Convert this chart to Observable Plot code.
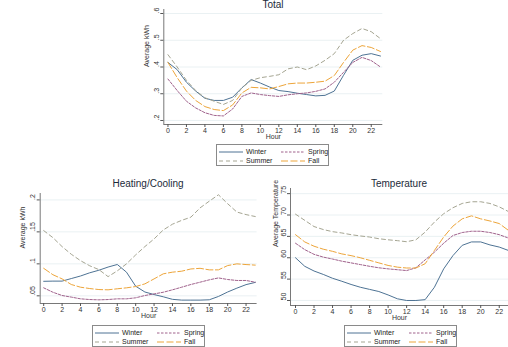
<!DOCTYPE html>
<html><head><meta charset="utf-8">
<script src="https://cdn.jsdelivr.net/npm/d3@7"></script>
<script src="https://cdn.jsdelivr.net/npm/@observablehq/plot@0.6"></script>
<style>
html,body{margin:0;padding:0;background:#fff;}
#root{position:relative;width:508px;height:347px;overflow:hidden;font-family:"Liberation Sans",Arial,sans-serif;}
.panel{position:absolute;}
.title{position:absolute;font-size:10px;color:#1c2b3a;transform:translateX(-50%);white-space:nowrap;line-height:10px;}
.legend{position:absolute;border:1px solid #8a8a8a;background:#fff;box-sizing:border-box;}
.item{position:absolute;font-size:7px;color:#222;line-height:8px;white-space:nowrap;}
.item svg{position:absolute;left:0;top:1px;}
.item span{position:absolute;left:27px;top:0;}
</style>
</head><body>
<div id="root"></div>
<script>
const hours = [0,1,2,3,4,5,6,7,8,9,10,11,12,13,14,15,16,17,18,19,20,21,22,23];
const seasons = ["Winter","Spring","Summer","Fall"];
const xTicks = [0,2,4,6,8,10,12,14,16,18,20,22];

// Total (Average kWh)
const totalWinter = [0.417,0.39,0.343,0.31,0.283,0.275,0.275,0.287,0.322,0.353,0.34,0.325,0.312,0.308,0.302,0.297,0.292,0.294,0.31,0.369,0.425,0.444,0.45,0.441];
const totalSpring = [0.355,0.312,0.272,0.247,0.229,0.219,0.217,0.243,0.29,0.303,0.297,0.293,0.29,0.296,0.3,0.303,0.309,0.318,0.343,0.38,0.417,0.436,0.424,0.4];
const totalSummer = [0.446,0.4,0.35,0.312,0.285,0.272,0.26,0.275,0.322,0.35,0.36,0.365,0.371,0.393,0.4,0.39,0.404,0.425,0.45,0.5,0.525,0.544,0.532,0.506];
const totalFall   = [0.417,0.36,0.31,0.275,0.252,0.241,0.237,0.258,0.303,0.324,0.322,0.318,0.327,0.337,0.34,0.34,0.343,0.347,0.368,0.417,0.463,0.48,0.473,0.458];
const totalTicks = [0.2,0.3,0.4,0.5,0.6];
const totalTickLabels = [".2",".3",".4",".5",".6"];

// Heating/Cooling (Average kWh)
const hcWinter = [0.0727,0.073,0.073,0.077,0.081,0.086,0.09,0.095,0.099,0.087,0.065,0.056,0.052,0.0485,0.0445,0.0433,0.0433,0.0433,0.0438,0.049,0.056,0.062,0.0675,0.071];
const hcSpring = [0.0625,0.0556,0.0505,0.048,0.0453,0.0442,0.0437,0.0442,0.0453,0.0453,0.0469,0.0505,0.053,0.0556,0.0594,0.0635,0.0677,0.0713,0.075,0.078,0.0755,0.074,0.074,0.0713];
const hcSummer = [0.152,0.141,0.127,0.115,0.105,0.097,0.091,0.08,0.089,0.1,0.114,0.127,0.139,0.153,0.162,0.168,0.173,0.1875,0.198,0.208,0.194,0.181,0.177,0.174];
const hcFall   = [0.093,0.083,0.0765,0.0677,0.0635,0.0614,0.0598,0.0594,0.061,0.0625,0.0645,0.0687,0.0765,0.0844,0.087,0.0885,0.092,0.093,0.0906,0.0906,0.0973,0.1,0.0989,0.098];
const hcTicks = [0.05,0.1,0.15,0.2];
const hcTickLabels = [".05",".1",".15",".2"];

// Temperature (Average Temperature)
const tWinter = [60,58,56.9,56.1,55.2,54.5,53.75,53.1,52.6,52.1,51.3,50.4,50,50,50.2,53.1,57.4,60.5,62.9,63.7,63.7,63,62.5,61.7];
const tSpring = [63.4,61.9,60.8,60.15,59.7,59.2,58.8,58.4,58,57.65,57.4,57.2,57,57.65,59.5,61.3,63.4,65.2,65.9,66.2,66.2,65.9,65.4,64.6];
const tSummer = [70.2,68.75,67.3,66.6,66.1,65.8,65.4,65.1,64.85,64.45,64.2,64,63.75,64.2,66,68.35,70.3,71.7,72.7,73.1,73.1,72.7,71.9,70.8];
const tFall   = [65.4,63.7,62.7,62,61.5,60.9,60.5,60,59.4,58.8,58.2,57.8,57.6,57.6,58.6,61.7,64.85,67.4,69.1,69.8,69.1,68.6,68,66.4];
const tTicks = [50,55,60,65,70,75];
const tTickLabels = ["50","55","60","65","70","75"];

const styles = {
  Winter: {stroke:"#4e7394", dash:null},
  Spring: {stroke:"#a0628c", dash:"2.5,1.5"},
  Summer: {stroke:"#a5a592", dash:"4,3"},
  Fall:   {stroke:"#eda53a", dash:"7,2.5"}
};

function tidy(w, sp, su, f){
  const rows = [];
  const m = {Winter:w, Spring:sp, Summer:su, Fall:f};
  for (const s of seasons) hours.forEach((h,i)=>rows.push({season:s, hour:h, value:m[s][i]}));
  return rows;
}

const root = document.getElementById("root");

function panel(cfg){
  const rows = tidy(...cfg.series);
  const marks = [
    Plot.ruleY(cfg.yTicks, {stroke:"#e4edf0", strokeWidth:0.8}),
    Plot.ruleX([cfg.xDomain[0]], {stroke:"#555", strokeWidth:0.8}),
    Plot.ruleY([cfg.yDomain[0]], {stroke:"#555", strokeWidth:0.8}),
    Plot.axisY({ticks: cfg.yTicks, tickFormat: () => "", tickSize: 3, label: null, stroke:"#555"}),
    Plot.text(cfg.yTicks, {y: d=>d, frameAnchor:"left", text:(d,i)=>cfg.yTickLabels[i], rotate:-90, dx:-7, fill:"#333", fontSize:7}),
    Plot.axisX({ticks: xTicks, tickSize: 3, tickPadding: 0.5, label: null, fontSize: 7, color:"#333", stroke:"#555"}),
    Plot.text(["Hour"], {frameAnchor:"bottom", dy: cfg.hourDy, fill:"#333", fontSize:7}),
    Plot.text([cfg.yLabel], {frameAnchor:"left", rotate:-90, dx: cfg.yLabelDx, fill:"#333", fontSize:7})
  ];
  for (const s of seasons){
    marks.push(Plot.line(rows.filter(r=>r.season===s), {x:"hour", y:"value", stroke: styles[s].stroke, strokeWidth:1, strokeDasharray: styles[s].dash, curve:"linear"}));
  }
  const svg = Plot.plot({
    width: cfg.width, height: cfg.height,
    marginLeft: cfg.ml, marginRight: cfg.mr, marginTop: cfg.mt, marginBottom: cfg.mb,
    x: {domain: cfg.xDomain, axis: null},
    y: {domain: cfg.yDomain, axis: null},
    style: {fontFamily:'"Liberation Sans",Arial,sans-serif', background:"transparent", overflow:"visible"},
    marks
  });
  const wrap = document.createElement("div");
  wrap.className = "panel";
  wrap.style.left = cfg.left + "px"; wrap.style.top = cfg.top + "px";
  wrap.appendChild(svg);
  root.appendChild(wrap);

  const t = document.createElement("div");
  t.className = "title"; t.textContent = cfg.title;
  t.style.left = cfg.titleX + "px"; t.style.top = cfg.titleY + "px";
  root.appendChild(t);

  const lg = document.createElement("div");
  lg.className = "legend";
  lg.style.left = cfg.legend[0]+"px"; lg.style.top = cfg.legend[1]+"px";
  lg.style.width = "113px"; lg.style.height = "22px";
  const pos = {Winter:[2,3], Spring:[64,3], Summer:[2,12], Fall:[64,12]};
  for (const s of ["Winter","Spring","Summer","Fall"]){
    const it = document.createElement("div");
    it.className = "item";
    it.style.left = pos[s][0]+"px"; it.style.top = pos[s][1]+"px";
    it.innerHTML = `<svg width="24" height="6"><line x1="0" y1="3" x2="24" y2="3" stroke="${styles[s].stroke}" stroke-width="1" ${styles[s].dash?`stroke-dasharray="${styles[s].dash}"`:""}/></svg><span>${s}</span>`;
    lg.appendChild(it);
  }
  root.appendChild(lg);
}

panel({
  title:"Total", titleX:273, titleY:0,
  left:130, top:0, width:255, height:145, ml:33.3, mr:2.7, mt:9, mb:21,
  xDomain:[-0.45,23.25], yDomain:[0.185,0.615],
  yTicks: totalTicks, yTickLabels: totalTickLabels,
  series:[totalWinter,totalSpring,totalSummer,totalFall],
  yLabel:"Average kWh", yLabelDx:-17, hourDy:14.5,
  legend:[216,144]
});
panel({
  title:"Heating/Cooling", titleX:148, titleY:179,
  left:0, top:170, width:260, height:150, ml:39.7, mr:3.4, mt:23, mb:17,
  xDomain:[-0.38,23.2], yDomain:[0.038,0.21],
  yTicks: hcTicks, yTickLabels: hcTickLabels,
  series:[hcWinter,hcSpring,hcSummer,hcFall],
  yLabel:"Average kWh", yLabelDx:-17, hourDy:14.5,
  legend:[92,325]
});
panel({
  title:"Temperature", titleX:399, titleY:179,
  left:255, top:170, width:253, height:150, ml:35, mr:0, mt:18, mb:15,
  xDomain:[-0.54,23.0], yDomain:[48.83,76.2],
  yTicks: tTicks, yTickLabels: tTickLabels,
  series:[tWinter,tSpring,tSummer,tFall],
  yLabel:"Average Temperature", yLabelDx:-14.5, hourDy:14.5,
  legend:[344,325]
});
</script>
</body></html>
